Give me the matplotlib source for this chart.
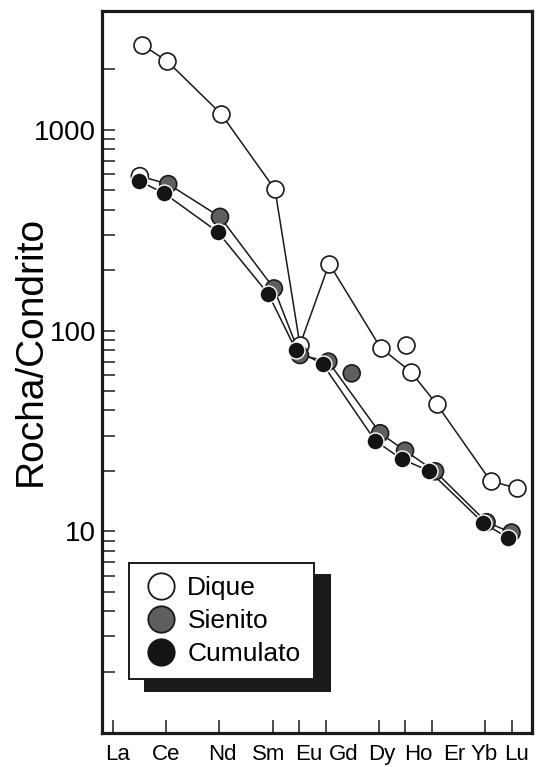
import matplotlib
matplotlib.use("Agg")
import matplotlib.pyplot as plt
from matplotlib.lines import Line2D
from matplotlib.patches import Rectangle
from matplotlib.ticker import FixedLocator, NullFormatter

plt.rcParams['font.family'] = ['Liberation Sans', 'DejaVu Sans']

# ---- data ----
ree_labels = ["La", "Ce", "Nd", "Sm", "Eu", "Gd", "Dy", "Ho", "Er", "Yb", "Lu"]
ree_pos = [0, 2, 4, 6, 7, 8, 10, 11, 12, 14, 15]
ree_label_pos = [0.16, 1.98, 4.09, 5.86, 7.37, 8.69, 10.12, 11.48, 12.83, 13.96, 15.17]

dique_x = [1.07, 2.03, 4.06, 6.09, 7.03, 8.13, 10.07, 11.2, 12.18, 14.21, 15.19]
dique_y = [2655, 2193, 1199, 504, 84.7, 215, 82, 62.4, 43, 17.8, 16.4]
dique_extra_x = [11.03]
dique_extra_y = [84.7]

sienito_x = [1.0, 2.07, 4.02, 6.05, 7.03, 8.1, 10.05, 10.99, 12.12, 14.06, 15.0]
sienito_y = [587, 536, 368, 162, 75.5, 70, 30.8, 25.2, 19.9, 11.1, 9.86]
sienito_first_white = True
sienito_extra_x = [8.98]
sienito_extra_y = [61.2]

cumulato_x = [0.97, 1.92, 3.93, 5.84, 6.88, 7.89, 9.86, 10.86, 11.9, 13.94, 14.88]
cumulato_y = [556, 482, 310, 152, 80, 68, 28.3, 22.9, 20.0, 11.0, 9.25]

series_names = ["Dique", "Sienito", "Cumulato"]

# ---- style ----
W, H, DPI = 536, 767, 100
fig = plt.figure(figsize=(W / DPI, H / DPI), dpi=DPI)
ax_l, ax_r, ax_t, ax_b = 101.7, 531.7, 11, 733
ax = fig.add_axes([ax_l / W, 1 - ax_b / H, (ax_r - ax_l) / W, (ax_b - ax_t) / H])

c_white, c_gray, c_black = "white", "#5f5f5f", "#141414"
ms = 12.2

# lines
ax.plot(dique_x, dique_y, color="#1a1a1a", lw=1.1, zorder=2)
ax.plot(sienito_x, sienito_y, color="#1a1a1a", lw=1.1, zorder=2)
ax.plot(cumulato_x, cumulato_y, color="#1a1a1a", lw=1.1, zorder=2)

# markers
ax.plot(dique_x + dique_extra_x, dique_y + dique_extra_y, ls="none", marker="o",
        ms=ms, mfc=c_white, mec="#1a1a1a", mew=1.2, zorder=3)
s_face = [c_white if (i == 0 and sienito_first_white) else c_gray for i in range(len(sienito_x))]
ax.scatter(sienito_x + sienito_extra_x, sienito_y + sienito_extra_y, s=ms ** 2,
           c=s_face + [c_gray], edgecolors="#1a1a1a", linewidths=1.2, zorder=4)
ax.plot(cumulato_x, cumulato_y, ls="none", marker="o", ms=ms, mfc=c_black,
        mec="white", mew=1.0, zorder=5)

ax.set_yscale("log")
ax.set_xlim(-0.437, 15.76)
ax.set_ylim(0.99, 3900)

ax.yaxis.set_major_locator(FixedLocator([10, 100, 1000]))
ax.set_yticklabels(["10", "100", "1000"])
minors = [m * d for d in (1, 10, 100) for m in range(2, 10)] + [2000]
ax.yaxis.set_minor_locator(FixedLocator(minors))
ax.yaxis.set_minor_formatter(NullFormatter())

# x: tick marks at element positions (minor), labels at their own positions (major)
ax.xaxis.set_minor_locator(FixedLocator(ree_pos))
ax.xaxis.set_major_locator(FixedLocator(ree_label_pos))
ax.set_xticklabels(ree_labels)

ax.tick_params(axis="both", which="both", direction="in", length=9.5, width=1.1,
               color="#1a1a1a")
ax.tick_params(axis="y", which="major", labelsize=20, pad=4)
ax.tick_params(axis="x", which="major", length=0, labelsize=16, pad=8)

for sp in ax.spines.values():
    sp.set_linewidth(2.3)
    sp.set_color("#1a1a1a")

ax.set_ylabel("Rocha/Condrito", fontsize=28)
ax.yaxis.set_label_coords((49 - ax_l) / (ax_r - ax_l), (ax_b - 351) / (ax_b - ax_t))

# legend
handles = [
    Line2D([], [], ls="none", marker="o", ms=19, mfc=c_white, mec="#1a1a1a", mew=1.3),
    Line2D([], [], ls="none", marker="o", ms=19, mfc=c_gray, mec="#1a1a1a", mew=1.3),
    Line2D([], [], ls="none", marker="o", ms=19, mfc=c_black, mec=c_black, mew=1.3),
]
fx = (129.3 - ax_l) / (ax_r - ax_l)
fy = (ax_b - 563.3) / (ax_b - ax_t)
leg = ax.legend(handles, series_names, loc="upper left", bbox_to_anchor=(fx, fy),
                borderaxespad=0, fontsize=19, frameon=True, fancybox=False,
                borderpad=0.5, handlelength=1.38, handletextpad=0.32,
                labelspacing=0.33)
leg.get_frame().set_edgecolor("#1a1a1a")
leg.get_frame().set_linewidth(1.4)
leg.get_frame().set_facecolor("white")
leg.get_frame().set_alpha(1)

fig.canvas.draw()
bb = leg.get_frame().get_window_extent(fig.canvas.get_renderer())
inv = ax.transAxes.inverted()
x0, y0 = bb.x0 + 15, bb.y0 - 13
x1, y1 = bb.x1 + 17, bb.y1 - 11
(ax0, ay0), (ax1, ay1) = inv.transform([(x0, y0), (x1, y1)])
ax.add_patch(Rectangle((ax0, ay0), ax1 - ax0, ay1 - ay0, transform=ax.transAxes,
                       facecolor="#1a1a1a", edgecolor="none", zorder=4.9, clip_on=False))

fig.savefig("out.png", dpi=DPI, facecolor="white")
